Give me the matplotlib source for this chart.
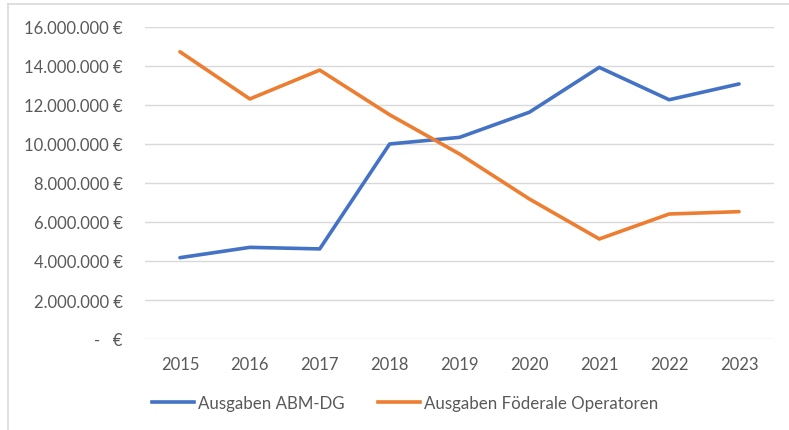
import matplotlib

matplotlib.use("Agg")
import matplotlib.pyplot as plt
from matplotlib.lines import Line2D
from matplotlib.ticker import FuncFormatter

# values (euro)
years = ["2015", "2016", "2017", "2018", "2019", "2020", "2021", "2022", "2023"]
abm_dg = [4170000, 4700000, 4620000, 10000000, 10340000, 11630000, 13930000, 12270000, 13080000]
foederal = [14730000, 12310000, 13790000, 11500000, 9490000, 7180000, 5130000, 6410000, 6530000]

BLUE = "#4472C4"
ORANGE = "#ED7D31"
GREY = "#595959"

plt.rcParams["font.family"] = ["Lato", "DejaVu Sans"]

fig = plt.figure(figsize=(7.89, 4.31), dpi=100)
ax = fig.add_axes([145 / 789, 1 - 340 / 431, (774 - 145) / 789, (340 - 28) / 431])

x = list(range(len(years)))
ax.plot(x, abm_dg, color=BLUE, lw=2.6, solid_capstyle="round", solid_joinstyle="round", zorder=3)
ax.plot(x, foederal, color=ORANGE, lw=2.6, solid_capstyle="round", solid_joinstyle="round", zorder=3)

ax.set_xlim(-0.5, len(years) - 0.5)
ax.set_ylim(0, 16000000)
ax.set_yticks(range(0, 16000001, 2000000))
ax.set_xticks(x)
ax.set_xticklabels(years)


def euro(v, pos):
    if v == 0:
        return "-   €"
    return "{:,.0f} €".format(v).replace(",", ".")


ax.yaxis.set_major_formatter(FuncFormatter(euro))
ax.grid(axis="y", color="#D9D9D9", lw=1)
ax.set_axisbelow(True)
for s in ax.spines.values():
    s.set_visible(False)
ax.tick_params(length=0, colors=GREY, labelsize=12)
ax.tick_params(axis="y", pad=16)
ax.tick_params(axis="x", pad=12)

handles = [Line2D([], [], color=BLUE, lw=2.6), Line2D([], [], color=ORANGE, lw=2.6)]
leg = fig.legend(handles, ["Ausgaben ABM-DG", "Ausgaben Föderale Operatoren"],
                 loc="center", bbox_to_anchor=(405 / 789, 1 - 404 / 431), ncol=2,
                 frameon=False, fontsize=12.2, handlelength=2.5, handletextpad=0.2,
                 columnspacing=2.0)
for t in leg.get_texts():
    t.set_color(GREY)

# chart frame (only top and left edge visible in the crop)
fig.add_artist(Line2D([8 / 789, 1], [1 - 5 / 431, 1 - 5 / 431], color="#D9D9D9", lw=1.2))
fig.add_artist(Line2D([8 / 789, 8 / 789], [0, 1 - 5 / 431], color="#D9D9D9", lw=1.2))

fig.savefig("out.png", dpi=100)
